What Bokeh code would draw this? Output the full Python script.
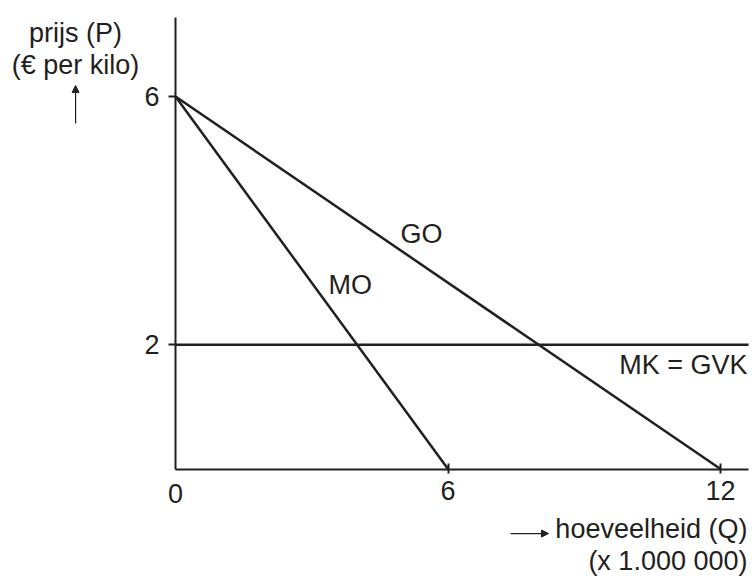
from bokeh.plotting import figure
from bokeh.models import Range1d, FixedTicker, LinearAxis, Arrow, NormalHead
from bokeh.core.properties import value
from bokeh.embed import file_html
from bokeh.resources import INLINE

# ---- data ----
price_ticks = [2, 6]
quantity_ticks = [6, 12]
origin_label = ["0"]

mo_q = [0, 6]
mo_p = [6, 0]
go_q = [0, 12]
go_p = [6, 0]
mk_level = 2

curve_names = ["MO", "GO", "MK = GVK"]
price_title = ["prijs (P)", "(€ per kilo)"]
quantity_title = ["hoeveelheid (Q)", "(x 1.000 000)"]

# axis extents (data units)
q_axis_end = 12.617
p_axis_end = 7.273

INK = "#231f20"
FONT = "Liberation Sans"
FS = "27px"

W, H = 752, 578
PX_Q = 45.417   # px per quantity unit
PX_P = 62.08    # px per price unit
X0, Y0 = 175, 468.5  # origin position in px

p = figure(width=W, height=H,
           x_range=Range1d(-X0 / PX_Q, (W - X0) / PX_Q),
           y_range=Range1d(-(H - Y0) / PX_P, Y0 / PX_P),
           x_axis_type=None, y_axis_type=None,
           output_backend="svg", toolbar_location=None,
           min_border=0)
p.outline_line_color = None
p.background_fill_color = "white"
p.border_fill_color = "white"

xax = LinearAxis(fixed_location=0, bounds=(0, q_axis_end),
                 ticker=FixedTicker(ticks=quantity_ticks))
yax = LinearAxis(fixed_location=0, bounds=(0, p_axis_end),
                 ticker=FixedTicker(ticks=price_ticks))
for ax in (xax, yax):
    ax.axis_line_color = INK
    ax.axis_line_width = 2
    ax.major_tick_line_color = INK
    ax.major_tick_line_width = 2
    ax.minor_tick_line_color = None
    ax.major_label_text_font = FONT
    ax.major_label_text_font_size = FS
    ax.major_label_text_color = INK
xax.major_tick_in = 6
xax.major_tick_out = 4
xax.major_label_standoff = 8
yax.major_tick_in = 0
yax.major_tick_out = 7
yax.major_label_standoff = 9
p.add_layout(xax, "below")
p.add_layout(yax, "left")

# curves
p.line(mo_q, mo_p, line_color=INK, line_width=2.5)
p.line(go_q, go_p, line_color=INK, line_width=2.5)
p.line([0, q_axis_end], [mk_level, mk_level], line_color=INK, line_width=2.5)

txt = dict(text_font=value(FONT), text_font_size=FS, text_color=INK,
           text_baseline="alphabetic")

# curve labels
p.text(x=[3.369, 4.954], y=[2.964, 3.785], text=curve_names[:2],
       text_align="left", **txt)
p.text(x=[12.594], y=[1.675], text=[curve_names[2]], text_align="right", **txt)

# origin label
p.text(x=[0], y=[-0.396], text=origin_label, text_align="center", **txt)

# axis titles
p.text(x=[-2.20, -2.20], y=[7.023, 6.508], text=price_title,
       text_align="center", **txt)
p.text(x=[12.594, 12.594], y=[-0.967, -1.482], text=quantity_title,
       text_align="right", **txt)

# arrows
p.add_layout(Arrow(end=NormalHead(size=7, fill_color=INK, line_color=INK),
                   x_start=-2.20, y_start=5.565, x_end=-2.20, y_end=6.178,
                   line_color=INK, line_width=1.2))
p.add_layout(Arrow(end=NormalHead(size=7, fill_color=INK, line_color=INK),
                   x_start=7.376, y_start=-1.04, x_end=8.213, y_end=-1.04,
                   line_color=INK, line_width=1.2))

open("out.html", "w").write(file_html(p, INLINE))
